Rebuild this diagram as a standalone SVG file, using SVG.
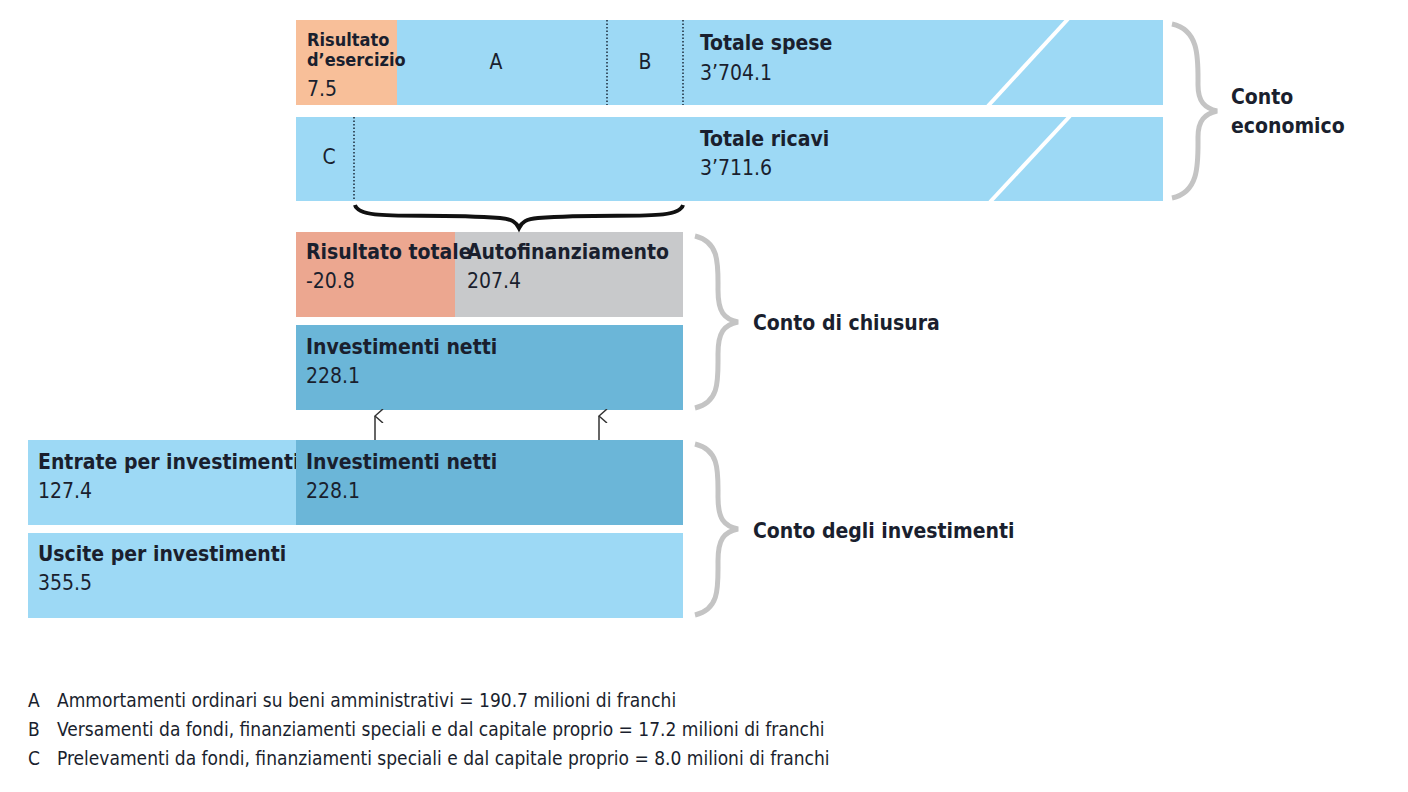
<svg xmlns="http://www.w3.org/2000/svg" width="1408" height="792" viewBox="0 0 1408 792">
<style>
text{font-family:"DejaVu Sans Condensed","Liberation Sans Narrow","Liberation Sans",sans-serif;fill:#1a1f2e;font-size:21px}
.b{font-weight:bold}
.lb{fill:#9dd9f5}.dk{fill:#6bb6d8}.or{fill:#f8bf99}.rd{fill:#eca790}.gr{fill:#c8c9cb}
.dot{stroke:#1a2a3a;stroke-width:1.5;stroke-dasharray:1.5 2}
.slash{stroke:#fff;stroke-width:4}
.brace{fill:none;stroke:#c4c4c4;stroke-width:5}
.conn{stroke:#333;stroke-width:1.5;fill:none}
.leg{font-size:19px}
</style>
<defs><marker id="ah" markerWidth="14" markerHeight="10" refX="7" refY="1" orient="auto-start-reverse" markerUnits="userSpaceOnUse" viewBox="0 0 14 10"><path d="M0,9 L7,1 L14,9" fill="none" stroke="#333" stroke-width="1.5"/></marker></defs>
<rect width="1408" height="792" fill="#fff"/>
<g id="spese">
<rect class="lb" x="296" y="20" width="867" height="85"/>
<rect class="or" x="296" y="20" width="101" height="85"/>
<line class="dot" x1="607" y1="20" x2="607" y2="105"/><line class="dot" x1="683" y1="20" x2="683" y2="105"/>
<line class="slash" x1="988" y1="106" x2="1068" y2="19"/>
<text x="307" y="46" font-size="18" class="b" style="font-size:18px">Risultato</text>
<text x="307" y="66" class="b" style="font-size:18px">d’esercizio</text>
<text x="307" y="96">7.5</text>
<text x="496" y="69" text-anchor="middle">A</text>
<text x="645" y="69" text-anchor="middle">B</text>
<text x="700" y="50" class="b">Totale spese</text>
<text x="700" y="80">3’704.1</text>
</g>
<g id="ricavi">
<rect class="lb" x="296" y="117" width="867" height="84"/>
<line class="dot" x1="354" y1="117" x2="354" y2="201"/>
<line class="slash" x1="990" y1="202" x2="1070" y2="116"/>
<text x="329" y="164" text-anchor="middle">C</text>
<text x="700" y="146" class="b">Totale ricavi</text>
<text x="700" y="175">3’711.6</text>
</g>
<g id="chiusura1">
<rect class="rd" x="296" y="232" width="159" height="85"/>
<rect class="gr" x="455" y="232" width="228" height="85"/>
<text x="306" y="259" class="b">Risultato totale</text>
<text x="306" y="288">-20.8</text>
<text x="467" y="259" class="b">Autofinanziamento</text>
<text x="467" y="288">207.4</text>
</g>
<g id="netti1">
<rect class="dk" x="296" y="325" width="387" height="85"/>
<text x="306" y="354" class="b">Investimenti netti</text>
<text x="306" y="383">228.1</text>
</g>
<g id="entrate">
<rect class="lb" x="28" y="440" width="268" height="85"/>
<text x="38" y="469" class="b">Entrate per investimenti</text>
<text x="38" y="498">127.4</text>
</g>
<g id="netti2">
<rect class="dk" x="296" y="440" width="387" height="85"/>
<text x="306" y="469" class="b">Investimenti netti</text>
<text x="306" y="498">228.1</text>
</g>
<g id="uscite">
<rect class="lb" x="28" y="533" width="655" height="85"/>
<text x="38" y="561" class="b">Uscite per investimenti</text>
<text x="38" y="590">355.5</text>
</g>
<g id="connectors">
<line class="conn" x1="375" y1="440" x2="375" y2="416" marker-end="url(#ah)"/>
<line class="conn" x1="599" y1="440" x2="599" y2="416" marker-end="url(#ah)"/>
<path d="M355,205 C360,222 420,212 500,218 C512,219 516,222 519,228 C522,222 526,219 538,218 C618,212 678,222 683,205" fill="none" stroke="#111" stroke-width="4"/>
</g>
<g id="braces">
<path class="brace" d="M1172,24 C1200,30 1198,60 1198,85 C1198,102 1205,108 1217,111 C1205,114 1198,120 1198,137 C1198,162 1200,192 1172,198"/>
<path class="brace" d="M695,236 C720,242 718,265 718,290 C718,312 724,319 738,322 C724,325 718,332 718,354 C718,380 720,402 695,408"/>
<path class="brace" d="M695,444 C720,450 718,472 718,497 C718,519 724,526 738,529 C724,532 718,539 718,561 C718,587 720,609 695,615"/>
</g>
<g id="labels">
<text x="1231" y="104" class="b">Conto</text>
<text x="1231" y="133" class="b">economico</text>
<text x="753" y="330" class="b">Conto di chiusura</text>
<text x="753" y="538" class="b">Conto degli investimenti</text>
</g>
<g id="legend">
<text x="28" y="707" class="leg">A</text><text x="57" y="707" class="leg">Ammortamenti ordinari su beni amministrativi = 190.7 milioni di franchi</text>
<text x="28" y="736" class="leg">B</text><text x="57" y="736" class="leg">Versamenti da fondi, finanziamenti speciali e dal capitale proprio = 17.2 milioni di franchi</text>
<text x="28" y="765" class="leg">C</text><text x="57" y="765" class="leg">Prelevamenti da fondi, finanziamenti speciali e dal capitale proprio = 8.0 milioni di franchi</text>
</g>
</svg>
